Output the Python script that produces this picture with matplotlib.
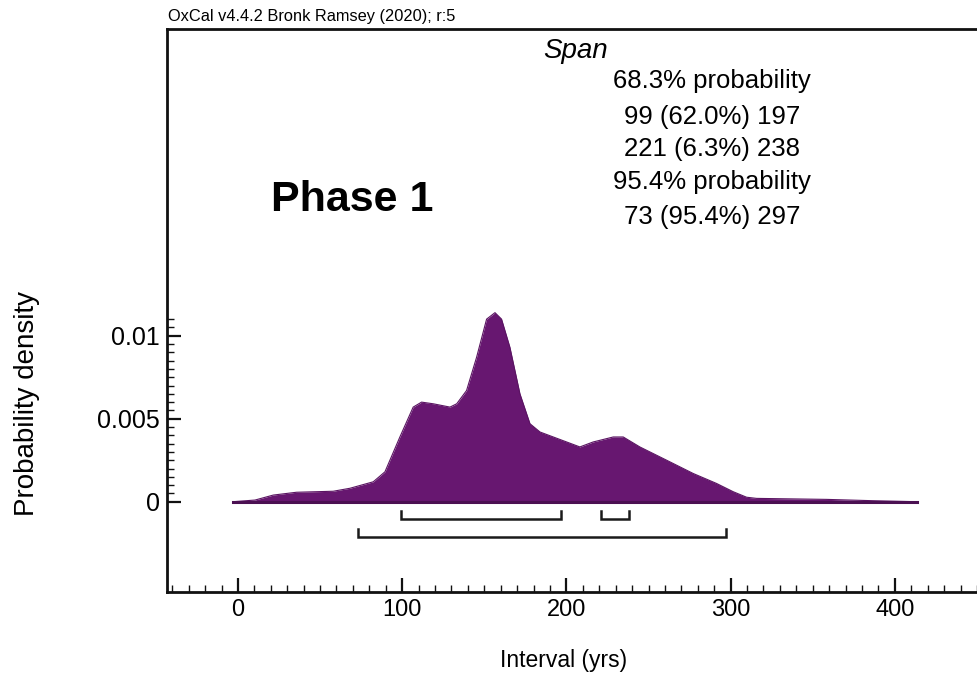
import numpy as np
import matplotlib
matplotlib.use("Agg")
import matplotlib.pyplot as plt
from matplotlib.ticker import FixedLocator, MultipleLocator

plt.rcParams['font.family'] = ['Liberation Sans', 'DejaVu Sans']

# Posterior density of the span of Phase 1 (years, probability density)
interval = [-3, 10.4, 21.5, 35.7, 58, 68.2, 82.4, 89.5, 98.6, 106.7, 111.8,
            118.9, 129.1, 133.2, 139.2, 145.3, 151.4, 156.5, 160.5, 165.6,
            171.7, 177.8, 183.9, 192, 200.1, 208.2, 216.3, 220.4, 228.5,
            234.6, 244.7, 261, 277.2, 291.4, 301.6, 309.7, 315.8, 358.4,
            386.8, 413.2]
density = [0.0, 0.0001, 0.0004, 0.00057, 0.00063, 0.00081, 0.0012, 0.0018,
           0.0039, 0.0057, 0.0060, 0.0059, 0.0057, 0.0059, 0.0067, 0.0087,
           0.0110, 0.01139, 0.0110, 0.0093, 0.0065, 0.0047, 0.0042, 0.0039,
           0.0036, 0.0033, 0.0036, 0.0037, 0.0039, 0.0039, 0.0033, 0.0025,
           0.0017, 0.0011, 0.0006, 0.00027, 0.0002, 0.00014, 0.00006, 0.0]

# Highest posterior density ranges
ranges_68 = [(99, 197), (221, 238)]
ranges_95 = [(73, 297)]

summary_lines = ["68.3% probability",
                 "99 (62.0%) 197",
                 "221 (6.3%) 238",
                 "95.4% probability",
                 "73 (95.4%) 297"]

x_major = [0, 100, 200, 300, 400]
y_major = [0, 0.005, 0.01]
y_major_labels = ["0", "0.005", "0.01"]

fill_color = "#671770"
edge_color = "#5a1462"

fig = plt.figure(figsize=(9.77, 6.81), dpi=100)
ax = fig.add_axes([167 / 977, 89 / 681, 1 - 167 / 977, (592 - 29) / 681])

ax.fill_between(interval, density, 0, color=fill_color, linewidth=0)
ax.plot(interval, density, color=edge_color, linewidth=0.8)
ax.plot([interval[0], interval[-1]], [0, 0], color="#4b1052", linewidth=2.2)

# Range brackets below the curve
def bracket(lo, hi, y, h):
    ax.plot([lo, lo, hi, hi], [y + h, y, y, y + h], color="#1a1a1a",
            linewidth=1.8, solid_joinstyle="miter")

for lo, hi in ranges_68:
    bracket(lo, hi, -0.00107, 0.0005)
for lo, hi in ranges_95:
    bracket(lo, hi, -0.00214, 0.00047)

ax.set_xlim(-43.2, 450)
ax.set_ylim(-0.00544, 0.02848)

ax.xaxis.set_major_locator(FixedLocator(x_major))
ax.xaxis.set_minor_locator(MultipleLocator(10))
ax.set_xticklabels([str(v) for v in x_major])
ax.yaxis.set_major_locator(FixedLocator(y_major))
ax.yaxis.set_minor_locator(FixedLocator(np.arange(0, 0.01101, 0.0005)))
ax.set_yticklabels(y_major_labels)

ax.tick_params(axis="both", which="major", direction="in", length=10,
               width=1.6, color="#111111")
ax.tick_params(axis="both", which="minor", direction="in", length=5,
               width=1.0, color="#111111")
ax.tick_params(axis="x", which="major", pad=5, labelsize=17)
ax.tick_params(axis="y", which="major", pad=5, labelsize=18)

for side in ("left", "bottom", "top"):
    ax.spines[side].set_linewidth(2.0)
    ax.spines[side].set_color("#111111")
ax.spines["right"].set_visible(False)

fig.text(27 / 977, 1 - 403 / 681, "Probability density", rotation=90,
         ha="center", va="center", fontsize=20)
fig.text(564 / 977, 1 - 660 / 681, "Interval (yrs)", ha="center",
         va="center", fontsize=16.5)
fig.text(168 / 977, 1 - 24 / 681, "OxCal v4.4.2 Bronk Ramsey (2020); r:5",
         ha="left", va="bottom", fontsize=11.8)

fig.text(352 / 977, 1 - 200 / 681, "Phase 1", ha="center", va="center",
         fontsize=31, fontweight="bold")
fig.text(576 / 977, 1 - 51 / 681, "Span", ha="center", va="center",
         fontsize=20, style="italic")
line_y = [81, 117, 149, 182, 217]
for txt, yy in zip(summary_lines, line_y):
    fig.text(712 / 977, 1 - yy / 681, txt, ha="center", va="center",
             fontsize=18.5)

fig.savefig("out.png", dpi=100)
